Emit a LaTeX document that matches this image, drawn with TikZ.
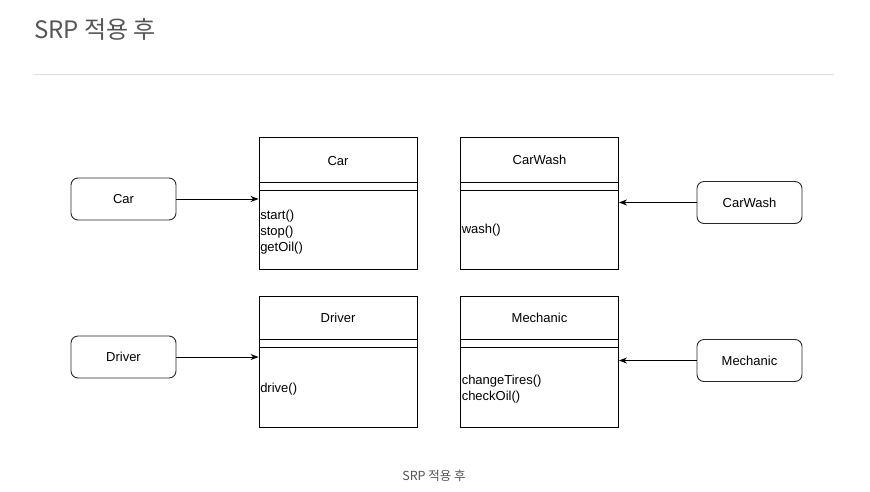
\documentclass[tikz,border=0pt]{standalone}
\usepackage{fontspec}
\setmainfont{Liberation Sans}
\newfontfamily\krfont{Noto Sans CJK KR}
\usetikzlibrary{arrows.meta}
\definecolor{titlegray}{RGB}{85,85,85}
\definecolor{rulegray}{RGB}{222,222,222}
\definecolor{boxgray}{RGB}{40,40,40}
\begin{document}
\begin{tikzpicture}[x=1pt, y=-1pt,
  classbox/.style={draw, line width=0.9pt, minimum width=158pt, inner sep=0pt},
  refbox/.style={draw=boxgray, line width=0.9pt, rounded corners=7pt, minimum width=105pt, minimum height=42pt, inner sep=0pt, font=\fontsize{13}{15}\selectfont},
  head/.style={font=\fontsize{13}{15}\selectfont, inner sep=0pt},
  ops/.style={font=\fontsize{13}{16}\selectfont, align=left, anchor=west, inner sep=1.5pt},
  arr/.style={-{Stealth[length=8pt, width=6pt, inset=2.5pt]}, line width=0.9pt}]
\useasboundingbox (0,0) rectangle (870,491);
\node[font=\krfont\fontsize{24}{27}\selectfont, text=titlegray, anchor=base west, inner sep=0pt] (title) at (34,38) {SRP 적용 후};
\draw[rulegray, line width=1pt] (34,74) -- (834,74);
% classes
\node[classbox, minimum height=132pt] (car) at (338,203) {};
\node[head] (carname) at (338,161) {Car};
\draw[line width=0.9pt] (car.west |- 0,182) -- (car.east |- 0,182);
\draw[line width=0.9pt] (car.west |- 0,190) -- (car.east |- 0,190);
\node[ops] (carops) at (car.west |- 0,232.5) {start()\\stop()\\getOil()};
\node[classbox, minimum height=132pt] (wash) at (539.5,203) {};
\node[head] (washname) at (539.5,160) {CarWash};
\draw[line width=0.9pt] (wash.west |- 0,182) -- (wash.east |- 0,182);
\draw[line width=0.9pt] (wash.west |- 0,190) -- (wash.east |- 0,190);
\node[ops] (washops) at (wash.west |- 0,230.5) {wash()};
\node[classbox, minimum height=131pt] (driver) at (338,361.5) {};
\node[head] (drivername) at (338,318) {Driver};
\draw[line width=0.9pt] (driver.west |- 0,339) -- (driver.east |- 0,339);
\draw[line width=0.9pt] (driver.west |- 0,347) -- (driver.east |- 0,347);
\node[ops] (driverops) at (driver.west |- 0,389) {drive()};
\node[classbox, minimum height=131pt] (mech) at (539.5,361.5) {};
\node[head] (mechname) at (539.5,318) {Mechanic};
\draw[line width=0.9pt] (mech.west |- 0,339) -- (mech.east |- 0,339);
\draw[line width=0.9pt] (mech.west |- 0,347) -- (mech.east |- 0,347);
\node[ops] (mechops) at (mech.west |- 0,389.5) {changeTires()\\checkOil()};
% actors
\node[refbox] (carref) at (123.5,199) {Car};
\node[refbox] (washref) at (749.5,202.5) {CarWash};
\node[refbox] (driverref) at (123.5,357) {Driver};
\node[refbox] (mechref) at (749.5,360.5) {Mechanic};
\draw[arr] (carref) -- (car.west |- carref);
\draw[arr] (washref) -- (wash.east |- washref);
\draw[arr] (driverref) -- (driver.west |- driverref);
\draw[arr] (mechref) -- (mech.east |- mechref);
\node[font=\krfont\fontsize{12.5}{14}\selectfont, text=titlegray, anchor=base, inner sep=0pt] (caption) at (434,480) {SRP 적용 후};
\end{tikzpicture}
\end{document}
